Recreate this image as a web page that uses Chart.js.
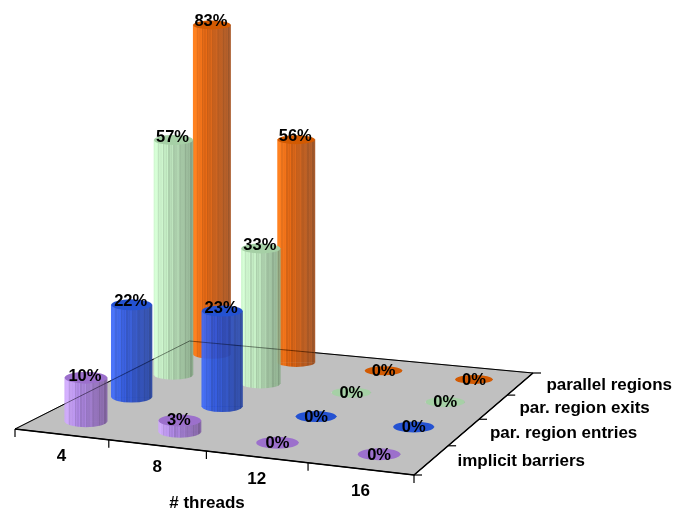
<!DOCTYPE html>
<html><head><meta charset="utf-8">
<style>html,body{margin:0;padding:0;background:#fff}canvas{display:block}</style>
<script src="https://cdn.jsdelivr.net/npm/chart.js@4"></script>
</head><body><canvas id="c" width="686" height="510"></canvas>
<script>
const threads = ['4','8','12','16'];
const seriesNames = ['implicit barriers','par. region entries','par. region exits','parallel regions'];
const implicitBarriers = [10,2.6,0,0];
const regionEntries = [21.8,22.6,0,0];
const regionExits = [57.4,33,0,0];
const parallelRegions = [83.4,56.4,0,0];
const seriesValues = [implicitBarriers,regionEntries,regionExits,parallelRegions];

const palette = [
  {l:[206,168,250],m:[166,126,222],r:[126,94,158],cap:'#9c70cc'},
  {l:[60,104,246],m:[40,80,212],r:[38,66,156],cap:'#2452d2'},
  {l:[206,248,206],m:[184,226,184],r:[132,164,132],cap:'#a6d0a6'},
  {l:[255,118,14],m:[218,88,0],r:[156,76,28],cap:'#d25a02'}
];

// floor frame: perspective map from (thread, series) grid space to canvas units
const FL=[15,429],FR=[414,475],BR=[533,373],BL=[189.5,341];
const GRID=4;
const H=(function(){
  const [x0,y0]=FL,[x1,y1]=FR,[x2,y2]=BR,[x3,y3]=BL;
  const dx1=x1-x2,dx2=x3-x2,sx=x0-x1+x2-x3,dy1=y1-y2,dy2=y3-y2,sy=y0-y1+y2-y3;
  const d=dx1*dy2-dx2*dy1;
  const g=(sx*dy2-dx2*sy)/d,h=(dx1*sy-sx*dy1)/d;
  return {a:x1-x0+g*x1,b:x3-x0+h*x3,c:x0,d:y1-y0+g*y1,e:y3-y0+h*y3,f:y0,g,h};
})();
function project(t,s){
  const u=t/GRID,v=s/GRID,w=H.g*u+H.h*v+1;
  return {x:(H.a*u+H.b*v+H.c)/w,y:(H.d*u+H.e*v+H.f)/w};
}
const unitHeight=s=>4.44-0.14*(s+0.5);
const radiusX=s=>21.2-0.85*s;
const radiusY=s=>6-0.5*s;

function stripedFill(ctx,cx,rx,p){
  const g=ctx.createLinearGradient(cx-rx,0,cx+rx,0),N=30;
  for(let i=0;i<N;i++){
    const f=i/N,f2=(i+1)/N;
    const base=f<0.3?p.l.map((c,k)=>c+(p.m[k]-c)*f/0.3):p.m.map((c,k)=>c+(p.r[k]-c)*(f-0.3)/0.7);
    const wob=1+0.09*Math.sin(i*2.4)*Math.cos(i*0.9);
    const col=`rgba(${base.map(c=>Math.min(255,Math.round(c*wob))).join(',')},0.92)`;
    g.addColorStop(f,col);g.addColorStop(f2,col);
  }
  return g;
}

const cylinderDatasets=seriesValues.map((vals,s)=>({
  type:'bar',
  label:seriesNames[s],
  order:s+1,
  grouped:false,
  barThickness:radiusX(s)*2,
  borderWidth:0,
  seriesIndex:s,
  data:vals.map((v,t)=>{
    const p=project(t+0.5,s+0.5);
    return {x:p.x,y:[p.y,p.y-v*unitHeight(s)],value:v};
  }),
  backgroundColor:c=>{
    if(!c.raw||c.raw.x===undefined)return 'transparent';
    const px=c.chart.scales.x.getPixelForValue(c.raw.x);
    if(!Number.isFinite(px))return 'transparent';
    return stripedFill(c.chart.ctx,px,radiusX(s),palette[s]);
  }
}));

const floorCorners=[FL,FR,BR,BL,FL].map(q=>({x:q[0],y:q[1]}));
const edgeOverlay=[FL,BL,BR].map(q=>({x:q[0],y:q[1]}));
const frontRight=[FL,FR,BR].map(q=>({x:q[0],y:q[1]}));
const topOf=el=>Math.min(el.y,el.base), footOf=el=>Math.max(el.y,el.base);

const cylinderPlugin={
  id:'cylinders',
  beforeDatasetDraw(chart,args){
    const ds=chart.data.datasets[args.index];
    if(ds.seriesIndex===undefined)return;
    const ctx=chart.ctx,s=ds.seriesIndex;
    args.meta.data.forEach((el,i)=>{
      if(ds.data[i].value===0)return;
      ctx.save();ctx.fillStyle=el.options.backgroundColor;
      ctx.beginPath();ctx.ellipse(el.x,footOf(el),radiusX(s),radiusY(s),0,0,Math.PI);ctx.fill();ctx.restore();
    });
  },
  afterDatasetDraw(chart,args){
    const ds=chart.data.datasets[args.index];
    if(ds.seriesIndex===undefined)return;
    const ctx=chart.ctx,s=ds.seriesIndex;
    args.meta.data.forEach(el=>{
      ctx.save();ctx.fillStyle=palette[s].cap;
      ctx.beginPath();ctx.ellipse(el.x,topOf(el),radiusX(s),radiusY(s),0,0,Math.PI*2);ctx.fill();ctx.restore();
    });
  },
  afterDraw(chart){
    const ctx=chart.ctx,sx=chart.scales.x,sy=chart.scales.y;
    const P=p=>({x:sx.getPixelForValue(p.x),y:sy.getPixelForValue(p.y)});
    ctx.save();
    ctx.strokeStyle='#000';ctx.lineWidth=1.2;
    for(let t=0;t<=threads.length;t++){
      const a=P(project(t,0));
      ctx.beginPath();ctx.moveTo(a.x,a.y);ctx.lineTo(a.x,a.y+8);ctx.stroke();
    }
    for(let s=0;s<=seriesNames.length;s++){
      const a=P(project(GRID,s));
      ctx.beginPath();ctx.moveTo(a.x,a.y);ctx.lineTo(a.x+8,a.y);ctx.stroke();
    }
    ctx.fillStyle='#000';
    ctx.font='bold 17px "Liberation Sans", Arial, sans-serif';
    ctx.textAlign='center';ctx.textBaseline='middle';
    threads.forEach((lab,t)=>{
      const a=P(project(t+0.5,0));
      ctx.fillText(lab,a.x,a.y+22);
    });
    ctx.fillText('# threads',207,503);
    ctx.textAlign='left';
    seriesNames.forEach((lab,s)=>{
      const a=P(project(GRID,s+0.5));
      ctx.fillText(lab,a.x+26,a.y+1);
    });
    ctx.font='bold 16.5px "Liberation Sans", Arial, sans-serif';
    ctx.textAlign='center';
    chart.data.datasets.forEach((ds,i)=>{
      if(ds.seriesIndex===undefined)return;
      chart.getDatasetMeta(i).data.forEach((el,j)=>{
        const v=ds.data[j].value;
        const off=v===0?0.8:-Math.min(3,v*0.15);
        ctx.fillText(Math.round(v)+'%',v===0?el.x:el.x-1,topOf(el)+off);
      });
    });
    ctx.restore();
  }
};

new Chart(document.getElementById('c'),{
  type:'bar',
  data:{datasets:[
    {type:'line',label:'edges over',order:0,data:edgeOverlay,borderColor:'rgba(0,0,0,0.4)',borderWidth:1,pointRadius:0,fill:false,tension:0},
    ...cylinderDatasets,
    {type:'line',label:'floor edge',order:9,data:frontRight,borderColor:'#000',borderWidth:1.6,pointRadius:0,fill:false,tension:0},
    {type:'line',label:'floor',order:10,data:floorCorners,borderColor:'#000',borderWidth:1,backgroundColor:'#c0c0c0',pointRadius:0,fill:'shape',tension:0}
  ]},
  plugins:[cylinderPlugin],
  options:{
    responsive:false,animation:false,
    layout:{padding:0},
    plugins:{legend:{display:false},tooltip:{enabled:false},title:{display:false}},
    scales:{
      x:{type:'linear',min:0,max:686,display:false,offset:false},
      y:{type:'linear',min:0,max:510,reverse:true,display:false}
    }
  }
});
</script></body></html>
